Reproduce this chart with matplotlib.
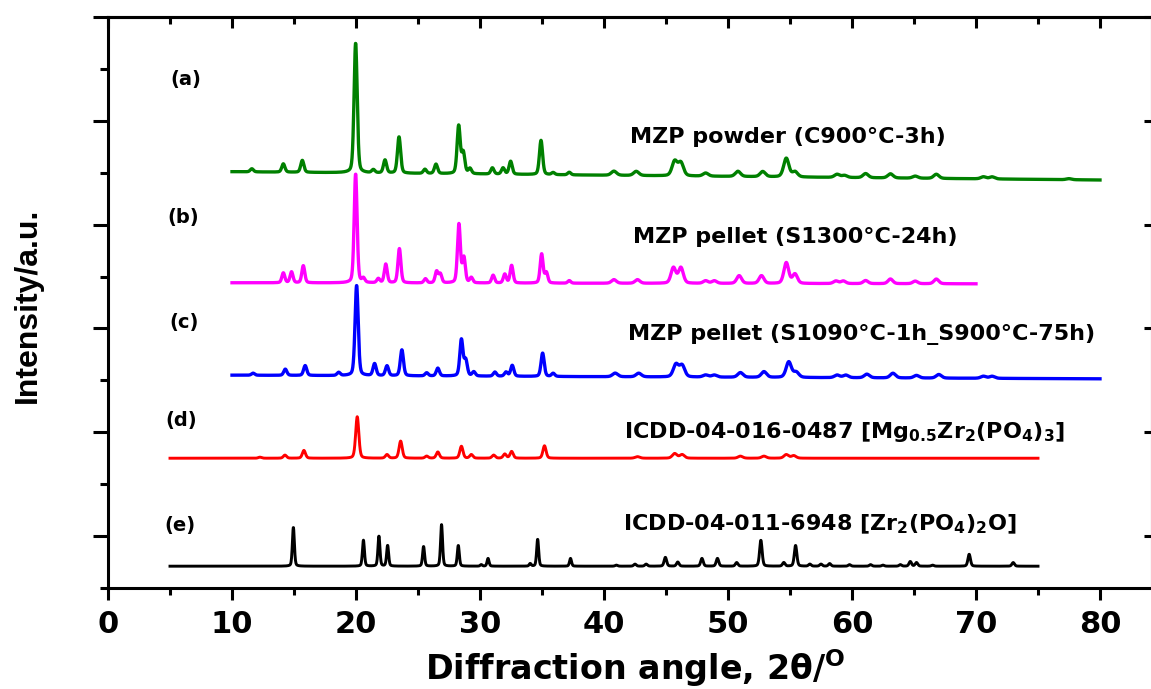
import numpy as np
import matplotlib
matplotlib.use("Agg")
import matplotlib.pyplot as plt
from matplotlib.ticker import MultipleLocator

plt.rcParams['font.family'] = ['DejaVu Sans']
plt.rcParams['font.weight'] = 'bold'
plt.rcParams['mathtext.fontset'] = 'dejavusans'

# --- peak lists (2theta in deg, height in a.u.) ---
# (a) MZP powder
a_range = (10, 80)
a_base = (8.02, 7.86)
a_pos = [11.6, 14.14, 15.67, 19.97, 21.4, 22.34, 23.47, 25.56, 26.45, 28.28, 28.65,
         29.19, 31.0, 31.86, 32.47, 34.92, 35.9, 37.2, 40.8, 42.6, 45.7, 46.2, 48.2,
         50.8, 52.8, 54.7, 55.4, 58.8, 59.4, 61.1, 63.1, 65.1, 66.8, 70.6, 71.3, 77.5]
a_hgt = [0.06, 0.16, 0.23, 2.50, 0.06, 0.25, 0.70, 0.08, 0.18, 0.92, 0.40,
         0.10, 0.12, 0.12, 0.25, 0.66, 0.04, 0.05, 0.08, 0.08, 0.28, 0.25, 0.06,
         0.10, 0.10, 0.36, 0.10, 0.06, 0.04, 0.08, 0.08, 0.04, 0.08, 0.04, 0.04, 0.02]

# (b) MZP pellet S1300
b_range = (10, 70)
b_base = (5.88, 5.86)
b_pos = [14.14, 14.8, 15.75, 19.97, 20.6, 21.8, 22.4, 23.5, 25.6, 26.5, 26.8, 28.3,
         28.7, 29.3, 31.06, 32.0, 32.55, 34.97, 35.35, 37.2, 40.8, 42.7, 45.6, 46.2,
         48.2, 48.9, 50.9, 52.7, 54.7, 55.4, 58.7, 59.3, 61.1, 63.1, 65.1, 66.8]
b_hgt = [0.19, 0.21, 0.33, 2.10, 0.08, 0.08, 0.36, 0.66, 0.08, 0.22, 0.17, 1.13,
         0.48, 0.10, 0.15, 0.17, 0.34, 0.56, 0.20, 0.05, 0.07, 0.07, 0.30, 0.30,
         0.05, 0.05, 0.15, 0.15, 0.40, 0.18, 0.05, 0.05, 0.06, 0.09, 0.05, 0.09]

# (c) MZP pellet S1090/S900
c_range = (10, 80)
c_base = (4.10, 4.03)
c_pos = [11.7, 14.3, 15.9, 18.6, 20.05, 21.5, 22.5, 23.7, 25.7, 26.6, 28.5, 28.85,
         29.5, 31.2, 32.1, 32.6, 35.05, 35.9, 40.9, 42.8, 45.8, 46.3, 48.2, 48.9,
         51.0, 52.9, 54.9, 55.5, 58.8, 59.5, 61.2, 63.3, 65.2, 67.0, 70.6, 71.3]
c_hgt = [0.04, 0.12, 0.19, 0.06, 1.74, 0.23, 0.19, 0.50, 0.06, 0.15, 0.70, 0.30,
         0.08, 0.08, 0.08, 0.21, 0.45, 0.06, 0.07, 0.07, 0.24, 0.22, 0.04, 0.04,
         0.09, 0.11, 0.30, 0.10, 0.05, 0.05, 0.07, 0.09, 0.05, 0.07, 0.04, 0.04]

# (d) ICDD-04-016-0487
d_range = (5, 75)
d_base = (2.50, 2.50)
d_pos = [12.25, 14.27, 15.8, 20.1, 22.5, 23.6, 25.7, 26.6, 28.5, 29.3, 31.1, 32.0,
         32.55, 35.2, 42.7, 45.7, 46.3, 51.0, 52.9, 54.7, 55.3]
d_hgt = [0.02, 0.06, 0.15, 0.80, 0.07, 0.33, 0.04, 0.12, 0.23, 0.07, 0.06, 0.08,
         0.13, 0.24, 0.03, 0.09, 0.07, 0.04, 0.04, 0.07, 0.05]

# (e) ICDD-04-011-6948
e_range = (5, 75)
e_base = (0.42, 0.42)
e_pos = [14.95, 20.6, 21.85, 22.55, 25.45, 26.9, 28.25, 30.1, 30.65, 34.05, 34.65,
         37.3, 41.0, 42.5, 43.4, 44.95, 45.95, 47.9, 49.15, 50.7, 52.65, 54.5, 55.45,
         56.6, 57.5, 58.2, 59.8, 61.5, 62.5, 63.9, 64.7, 65.2, 66.5, 69.45, 73.0]
e_hgt = [0.75, 0.50, 0.58, 0.40, 0.38, 0.80, 0.40, 0.03, 0.15, 0.05, 0.52,
         0.15, 0.02, 0.04, 0.04, 0.17, 0.08, 0.15, 0.15, 0.07, 0.50, 0.07, 0.40,
         0.04, 0.04, 0.05, 0.03, 0.03, 0.02, 0.03, 0.09, 0.07, 0.02, 0.23, 0.07]

labels = ['MZP powder (C900°C-3h)',
          'MZP pellet (S1300°C-24h)',
          'MZP pellet (S1090°C-1h_S900°C-75h)',
          r'ICDD-04-016-0487 [Mg$_\mathbf{0.5}$Zr$_\mathbf{2}$(PO$_\mathbf{4}$)$_\mathbf{3}$]',
          r'ICDD-04-011-6948 [Zr$_\mathbf{2}$(PO$_\mathbf{4}$)$_\mathbf{2}$O]']
letters = ['(a)', '(b)', '(c)', '(d)', '(e)']
colors = ['#008000', '#ff00ff', '#0000ff', '#ff0000', '#000000']


def pattern(x, pos, hgt, w_lo, w_hi):
    y = np.zeros_like(x)
    for p, h in zip(pos, hgt):
        w = w_lo if p < 40 else w_hi
        u = (x - p) / w
        y += h * (0.7 * np.exp(-4 * np.log(2) * u ** 2) + 0.3 / (1 + 4 * u ** 2))
    return y


series = [
    (a_range, a_base, a_pos, a_hgt, 0.30, 0.50),
    (b_range, b_base, b_pos, b_hgt, 0.28, 0.46),
    (c_range, c_base, c_pos, c_hgt, 0.30, 0.50),
    (d_range, d_base, d_pos, d_hgt, 0.30, 0.44),
    (e_range, e_base, e_pos, e_hgt, 0.19, 0.24),
]

fig = plt.figure(figsize=(11.51, 6.89), dpi=100)
ax = fig.add_axes([108 / 1151, 1 - 588 / 689, (1152 - 108) / 1151, (588 - 17) / 689])

for (rng, base, pos, hgt, wl, wh), col in zip(series, colors):
    x = np.arange(rng[0], rng[1] + 0.001, 0.02)
    bl = np.interp(x, rng, base)
    lw = 2.4 if col not in ('#ff0000', '#000000') else 2.1
    ax.plot(x, bl + pattern(x, pos, hgt, wl, wh), color=col, lw=lw, solid_joinstyle='round')

# text positions (layout)
lab_xy = [(42.1, 8.57), (42.3, 6.65), (41.9, 4.78), (41.6, 2.89), (41.5, 1.12)]
let_xy = [(6.3, 9.79), (6.1, 7.13), (6.1, 5.11), (5.9, 3.22), (5.8, 1.21)]
for (lx, ly), t in zip(lab_xy, labels):
    ax.text(lx, ly, t, fontsize=16, fontweight='bold', ha='left', va='baseline')
for (lx, ly), t in zip(let_xy, letters):
    ax.text(lx, ly, t, fontsize=14, fontweight='bold', ha='center', va='center')

ax.set_xlim(0, (1152 - 108) / 12.4)
ax.set_ylim(0, 11)

ax.set_xticks(range(0, 81, 10))
ax.xaxis.set_minor_locator(MultipleLocator(5))
ax.set_yticks(range(1, 12, 2))
ax.set_yticks(range(0, 11, 2), minor=True)
ax.set_yticklabels([])
ax.tick_params(axis='x', which='major', direction='out', length=8.6, width=2.2,
               labelsize=22, pad=7)
ax.tick_params(axis='x', which='minor', direction='out', length=5, width=2.2)
ax.tick_params(axis='y', which='major', direction='out', length=10.8, width=2.2)
ax.tick_params(axis='y', which='minor', direction='out', length=5.8, width=2.2)
for lab in ax.get_xticklabels():
    lab.set_fontweight('bold')
for s in ax.spines.values():
    s.set_linewidth(2.2)

top = ax.secondary_xaxis('top')
top.set_xticks(range(0, 81, 10))
top.xaxis.set_minor_locator(MultipleLocator(5))
top.tick_params(which='major', direction='in', length=8, width=2.2, labeltop=False)
top.tick_params(which='minor', direction='in', length=5, width=2.2)
top.spines['top'].set_linewidth(2.2)

right = ax.secondary_yaxis('right')
right.set_yticks(range(1, 12, 2))
right.tick_params(direction='in', length=6, width=2.2, labelright=False)
right.spines['right'].set_linewidth(2.2)

fig.text(635 / 1151, 1 - 680 / 689, r'Diffraction angle, 2θ/$^\mathbf{O}$',
         fontsize=24, fontweight='bold', ha='center', va='baseline')
fig.text(28 / 1151, 1 - 305 / 689, 'Intensity/a.u.', family='Liberation Sans',
         fontsize=23, fontweight='bold', rotation=90, ha='center', va='center')

fig.savefig('out.png', dpi=100)
